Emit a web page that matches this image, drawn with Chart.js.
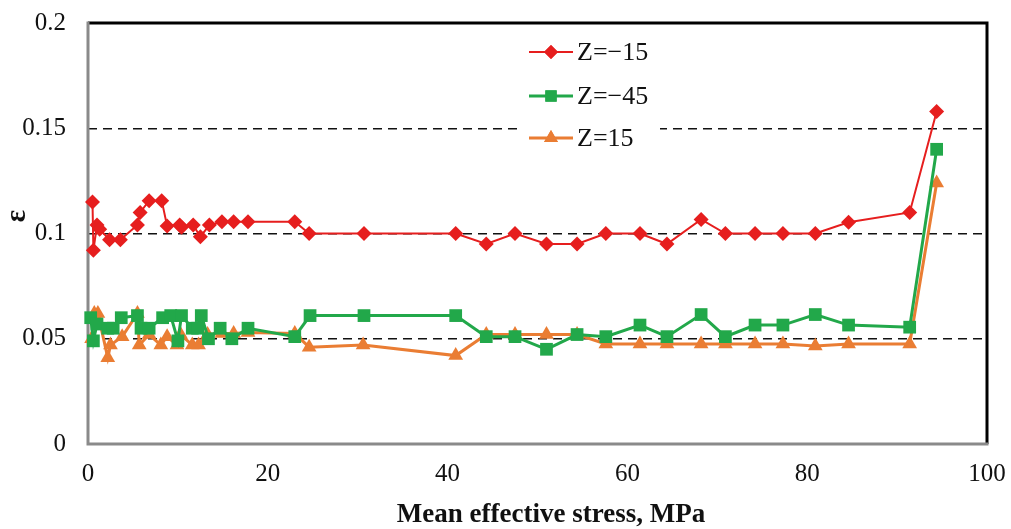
<!DOCTYPE html>
<html>
<head>
<meta charset="utf-8">
<script src="https://cdn.jsdelivr.net/npm/chart.js@4.4.1/dist/chart.umd.min.js"></script>
<style>
  html, body { margin: 0; padding: 0; background: #fff; }
  #wrap { width: 1011px; height: 529px; }
</style>
</head>
<body>
<div id="wrap"><canvas id="c" width="1011" height="529"></canvas></div>
<script>
// data
const seriesNames = ['Z=\u221215', 'Z=\u221245', 'Z=15'];

const xZm15 = [0.5, 0.6, 1.0, 1.3, 2.4, 3.6, 5.5, 5.8, 6.8, 8.2, 8.8, 10.2, 10.4, 11.7, 12.5, 13.5, 14.9, 16.2, 17.8, 23.0, 24.6, 30.7, 40.9, 44.3, 47.5, 51.0, 54.4, 57.6, 61.4, 64.4, 68.2, 70.9, 74.2, 77.3, 80.9, 84.6, 91.4, 94.4];
const yZm15 = [0.115, 0.092, 0.104, 0.102, 0.097, 0.097, 0.104, 0.110, 0.1156, 0.1156, 0.1036, 0.104, 0.103, 0.104, 0.0985, 0.104, 0.1056, 0.1056, 0.1056, 0.1056, 0.100, 0.100, 0.100, 0.095, 0.100, 0.095, 0.095, 0.100, 0.100, 0.095, 0.1067, 0.100, 0.100, 0.100, 0.100, 0.1053, 0.110, 0.158];

const xZm45 = [0.3, 0.6, 1.0, 2.2, 2.8, 3.7, 5.5, 5.9, 6.8, 8.3, 9.2, 10.0, 10.4, 11.6, 12.2, 12.6, 13.4, 14.7, 16.0, 17.8, 23.0, 24.7, 30.7, 40.9, 44.3, 47.5, 51.0, 54.4, 57.6, 61.4, 64.4, 68.2, 70.9, 74.2, 77.3, 80.9, 84.6, 91.4, 94.4];
const yZm45 = [0.060, 0.049, 0.057, 0.055, 0.055, 0.060, 0.061, 0.055, 0.055, 0.060, 0.061, 0.049, 0.061, 0.055, 0.055, 0.061, 0.050, 0.055, 0.050, 0.055, 0.051, 0.061, 0.061, 0.061, 0.051, 0.051, 0.045, 0.052, 0.051, 0.0565, 0.051, 0.0615, 0.051, 0.0565, 0.0565, 0.0615, 0.0565, 0.0555, 0.140];

const xZ15 = [0.4, 0.7, 1.1, 2.2, 2.5, 3.8, 5.5, 5.7, 6.8, 8.1, 8.8, 9.9, 10.3, 11.6, 12.3, 13.3, 14.9, 16.2, 17.8, 23.0, 24.6, 30.6, 40.9, 44.3, 47.5, 51.0, 54.4, 57.6, 61.4, 64.4, 68.2, 70.9, 74.2, 77.3, 80.9, 84.6, 91.4, 94.4];
const yZ15 = [0.050, 0.062, 0.062, 0.041, 0.047, 0.051, 0.062, 0.047, 0.052, 0.047, 0.051, 0.047, 0.052, 0.047, 0.047, 0.052, 0.0525, 0.0525, 0.053, 0.0525, 0.046, 0.047, 0.042, 0.052, 0.052, 0.052, 0.052, 0.0475, 0.0475, 0.0475, 0.0475, 0.0475, 0.0475, 0.0475, 0.0466, 0.0475, 0.0475, 0.124];

const xTicks = [0, 20, 40, 60, 80, 100];
const yTicks = [0, 0.05, 0.1, 0.15, 0.2];
const xTitle = 'Mean effective stress, MPa';
const yTitle = '\u03b5';

const RED = '#e61e1e', GREEN = '#22a84a', ORANGE = '#ea7d33';
const SERIF = '"Liberation Serif", "Times New Roman", serif';

function pts(xs, ys) { return xs.map((x, i) => ({ x: x, y: ys[i] })); }

// frame, legend and titles
const extras = {
  id: 'extras',
  beforeDatasetsDraw(chart) {
    const { ctx, chartArea: a } = chart;
    ctx.save();
    ctx.lineCap = 'butt';
    ctx.strokeStyle = '#000';
    ctx.lineWidth = 3;
    ctx.beginPath();
    ctx.moveTo(a.left, a.top); ctx.lineTo(a.right, a.top); ctx.lineTo(a.right, a.bottom);
    ctx.stroke();
    ctx.strokeStyle = '#8a8a8a';
    ctx.beginPath();
    ctx.moveTo(a.left, a.top - 1.5); ctx.lineTo(a.left, a.bottom); ctx.lineTo(a.right + 1.5, a.bottom);
    ctx.stroke();
    ctx.restore();
  },
  afterDatasetsDraw(chart) {
    const { ctx } = chart;
    ctx.save();
    // legend box
    ctx.fillStyle = '#fff';
    ctx.fillRect(523, 30, 137, 124);
    const rows = [52, 96, 138];
    const cols = [RED, GREEN, ORANGE];
    const shapes = ['rectRot', 'rect', 'triangle'];
    const radii = [7, 8, 8];
    rows.forEach((y, i) => {
      ctx.strokeStyle = cols[i];
      ctx.lineWidth = i === 0 ? 2 : 3;
      ctx.beginPath(); ctx.moveTo(529, y); ctx.lineTo(573, y); ctx.stroke();
      ctx.fillStyle = cols[i];
      Chart.helpers.drawPoint(ctx, { pointStyle: shapes[i], radius: radii[i], borderWidth: 0 }, 551, y);
      ctx.fill();
      ctx.fillStyle = '#111';
      ctx.font = '26px ' + SERIF;
      ctx.textBaseline = 'middle';
      ctx.textAlign = 'left';
      ctx.fillText(seriesNames[i], 577, y + 1);
    });
    // axis titles
    ctx.fillStyle = '#111';
    ctx.font = 'bold 27px ' + SERIF;
    ctx.textAlign = 'center';
    ctx.textBaseline = 'middle';
    ctx.fillText(xTitle, 551, 515);
    ctx.translate(18, 216);
    ctx.rotate(-Math.PI / 2);
    ctx.font = 'bold 29px ' + SERIF;
    ctx.fillText(yTitle, 0, 0);
    ctx.restore();
  }
};

new Chart(document.getElementById('c'), {
  type: 'scatter',
  data: {
    datasets: [
      { label: seriesNames[0], data: pts(xZm15, yZm15), showLine: true, borderColor: RED, backgroundColor: RED,
        borderWidth: 2, pointStyle: 'rectRot', pointRadius: 7.5, pointBorderWidth: 0, clip: false },
      { label: seriesNames[1], data: pts(xZm45, yZm45), showLine: true, borderColor: GREEN, backgroundColor: GREEN,
        borderWidth: 3, pointStyle: 'rect', pointRadius: 9, pointBorderWidth: 0, clip: false },
      { label: seriesNames[2], data: pts(xZ15, yZ15), showLine: true, borderColor: ORANGE, backgroundColor: ORANGE,
        borderWidth: 3, pointStyle: 'triangle', pointRadius: 8.5, pointBorderWidth: 0, clip: false }
    ]
  },
  options: {
    responsive: false,
    animation: false,
    layout: { padding: { left: 0, right: 24, top: 23, bottom: 0 } },
    plugins: { legend: { display: false }, tooltip: { enabled: false } },
    scales: {
      x: {
        type: 'linear', min: 0, max: 100,
        afterBuildTicks: s => { s.ticks = xTicks.map(v => ({ value: v })); },
        afterFit: s => { s.height = 85; s.paddingLeft = 0; s.paddingRight = 0; },
        grid: { display: false, drawTicks: false },
        border: { display: false },
        ticks: { color: '#111', font: { family: SERIF, size: 25 }, padding: 15, maxRotation: 0 }
      },
      y: {
        type: 'linear', min: 0, max: 0.2,
        afterBuildTicks: s => { s.ticks = yTicks.map(v => ({ value: v })); },
        afterFit: s => { s.width = 88; s.paddingTop = 0; s.paddingBottom = 0; },
        grid: {
          drawTicks: false,
          color: c => (c.tick.value > 0 && c.tick.value < 0.2) ? '#111' : 'rgba(0,0,0,0)',
          lineWidth: 1.5
        },
        border: { display: false, dash: [9, 6] },
        ticks: { color: '#111', font: { family: SERIF, size: 25 }, padding: 22,
          callback: v => String(Math.round(v * 100) / 100) }
      }
    }
  },
  plugins: [extras]
});
</script>
</body>
</html>
